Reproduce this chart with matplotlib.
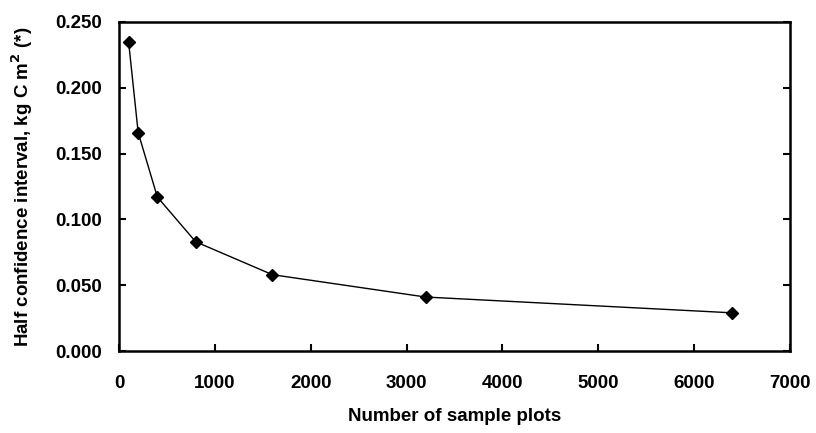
import matplotlib
matplotlib.use("Agg")
import matplotlib.pyplot as plt

# sample size vs half confidence interval
n_plots = [100, 200, 400, 800, 1600, 3200, 6400]
half_ci = [0.235, 0.166, 0.117, 0.083, 0.058, 0.041, 0.029]

x_ticks = [0, 1000, 2000, 3000, 4000, 5000, 6000, 7000]
y_ticks = [0.0, 0.05, 0.10, 0.15, 0.20, 0.25]

plt.rcParams["font.family"] = ["Liberation Sans", "DejaVu Sans"]
plt.rcParams["font.weight"] = "bold"

fig = plt.figure(figsize=(8.16, 4.33), dpi=100)
ax = fig.add_axes([119 / 816, 1 - 351 / 433, (790 - 119) / 816, (351 - 22) / 433])

ax.plot(n_plots, half_ci, color="black", linewidth=1.0, marker="D", markersize=6,
        markerfacecolor="black", markeredgecolor="black")

ax.set_xlim(0, 7000)
ax.set_ylim(0, 0.25)
ax.set_xticks(x_ticks)
ax.set_yticks(y_ticks)
ax.set_yticklabels([f"{v:.3f}" for v in y_ticks])

for side in ["left", "bottom", "right", "top"]:
    ax.spines[side].set_linewidth(1.8)
ax.tick_params(direction="in", length=5, width=1.5, labelsize=13.5,
               right=True, top=False)
ax.tick_params(axis="y", pad=12)
ax.tick_params(axis="x", pad=17)
for lbl in ax.get_xticklabels() + ax.get_yticklabels():
    lbl.set_fontweight("bold")

ax.set_xlabel("Number of sample plots", fontsize=13.5, fontweight="bold", labelpad=12)
ax.set_ylabel(r"Half confidence interval, kg C m$^{\mathbf{2}}$ (*)", fontsize=13.5,
              fontweight="bold", labelpad=15)

fig.savefig("out.png", dpi=100)
